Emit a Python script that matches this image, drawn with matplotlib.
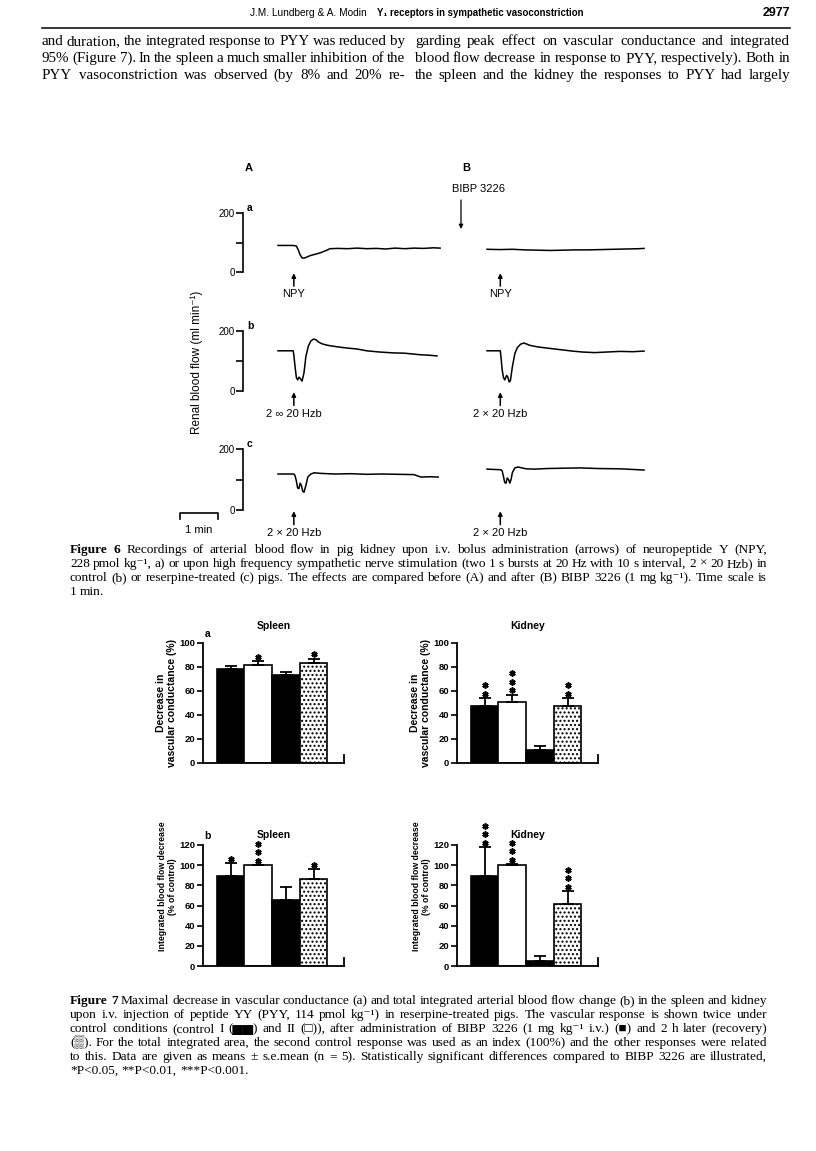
import numpy as np
import matplotlib
matplotlib.use('Agg')
import matplotlib.pyplot as plt
import matplotlib.transforms as mtransforms
from matplotlib import font_manager

# ---------------- data ----------------
# Figure 6: renal blood flow traces (time in s from trace start, flow in ml/min)
a_before_t = [0, 24, 29, 32, 35, 38, 41, 45, 50, 55, 62, 68, 75, 82, 95, 110, 125, 140, 155, 170, 185, 200, 215, 230, 245, 256]
a_before_flow = [90, 90, 88, 75, 58, 48, 47, 50, 55, 58, 62, 66, 72, 79, 80, 79, 81, 79, 80, 78, 81, 79, 81, 80, 82, 81]
a_after_t = [0, 20, 40, 60, 80, 100, 120, 140, 160, 180, 200, 220, 240, 248]
a_after_flow = [77, 76, 77, 75, 74, 73, 74, 75, 75, 76, 77, 78, 79, 80]

b_before_t = [0, 24, 25, 27, 29, 31, 33, 35, 38, 41, 44, 48, 52, 56, 60, 64, 70, 77, 85, 98, 110, 125, 140, 160, 182, 200, 224, 240, 251]
b_before_flow = [134, 134, 120, 80, 45, 37, 46, 42, 33, 60, 115, 150, 167, 173, 171, 163, 157, 153, 150, 146, 143, 140, 134, 130, 127, 126, 121, 119, 117]
b_after_t = [0, 21, 22, 24, 26, 28, 31, 33, 35, 37, 40, 44, 48, 53, 58, 62, 68, 80, 95, 115, 135, 150, 170, 190, 210, 230, 248]
b_after_flow = [134, 134, 115, 70, 45, 37, 52, 46, 30, 35, 80, 125, 145, 156, 160, 157, 152, 147, 143, 138, 133, 130, 128, 130, 132, 131, 133]

c_before_t = [0, 25, 27, 29, 31, 33, 35, 37, 39, 41, 44, 47, 52, 57, 68, 90, 115, 140, 163, 190, 215, 220, 226, 240, 253]
c_before_flow = [118, 118, 112, 95, 72, 70, 88, 80, 62, 58, 80, 108, 118, 122, 120, 118, 119, 117, 118, 117, 116, 112, 108, 109, 108]
c_after_t = [0, 22, 24, 26, 28, 30, 32, 34, 36, 38, 40, 44, 49, 55, 62, 75, 95, 120, 147, 175, 210, 230, 248]
c_after_flow = [134, 132, 128, 110, 90, 88, 105, 100, 88, 100, 122, 138, 141, 138, 135, 134, 136, 137, 138, 136, 135, 133, 131]

arrow_before_s = 25
arrow_after_s = 21
scale_bar_s = 60
trace_yticks = [0, 100, 200]
trace_yticklabels = ['0', '', '200']

# Figure 7: control I, control II, BIBP 3226, recovery
spleen_cond = [78, 82, 73, 83]
spleen_cond_sem = [3, 3, 3, 4]
spleen_cond_stars = [0, 1, 0, 1]
kidney_cond = [47.5, 51, 11, 47.5]
kidney_cond_sem = [6.5, 6, 3, 6.5]
kidney_cond_stars = [2, 3, 0, 2]
spleen_int = [89, 100, 65, 86]
spleen_int_sem = [13, 0, 13, 10]
spleen_int_stars = [1, 3, 0, 1]
kidney_int = [89, 100, 5, 61]
kidney_int_sem = [29, 1, 5, 13]
kidney_int_stars = [3, 3, 0, 3]

# page text
header_left = 'J.M. Lundberg & A. Modin'
header_mid = 'Y\u2081 receptors in sympathetic vasoconstriction'
header_page = '2977'
body_left = ["and duration, the integrated response to PYY was reduced by",
             "95% (Figure 7). In the spleen a much smaller inhibition of the",
             "PYY vasoconstriction was observed (by 8% and 20% re-"]
body_right = ["garding peak effect on vascular conductance and integrated",
              "blood flow decrease in response to PYY, respectively). Both in",
              "the spleen and the kidney the responses to PYY had largely"]
cap6 = ["Figure 6  Recordings of arterial blood flow in pig kidney upon i.v. bolus administration (arrows) of neuropeptide Y (NPY,",
        "228 pmol kg\u207b\u00b9, a) or upon high frequency sympathetic nerve stimulation (two 1 s bursts at 20 Hz with 10 s interval, 2 \u00d7 20 Hzb) in",
        "control (b) or reserpine-treated (c) pigs. The effects are compared before (A) and after (B) BIBP 3226 (1 mg kg\u207b\u00b9). Time scale is",
        "1 min."]
cap7 = ["Figure 7 Maximal decrease in vascular conductance (a) and total integrated arterial blood flow change (b) in the spleen and kidney",
        "upon i.v. injection of peptide YY (PYY, 114 pmol kg\u207b\u00b9) in reserpine-treated pigs. The vascular response is shown twice under",
        "control conditions (control I (\u2586\u2586) and II (\u25a1)), after administration of BIBP 3226 (1 mg kg\u207b\u00b9 i.v.) (\u25a0) and 2 h later (recovery)",
        "(\u2592). For the total integrated area, the second control response was used as an index (100%) and the other responses were related",
        "to this. Data are given as means \u00b1 s.e.mean (n = 5). Statistically significant differences compared to BIBP 3226 are illustrated,",
        "*P<0.05, **P<0.01, ***P<0.001."]

# ---------------- layout ----------------
W, H = 816, 1151
SERIF = ['Liberation Serif', 'DejaVu Serif']
SANS = ['Liberation Sans', 'DejaVu Sans']
installed = {f.name for f in font_manager.fontManager.ttflist}
if 'Liberation Sans Narrow' in installed:
    NARROW, head_size, head_bold_size = ['Liberation Sans Narrow', 'DejaVu Sans'], 8.8, 8.4
else:
    NARROW, head_size, head_bold_size = SANS, 7.3, 6.9

plt.rcParams['hatch.linewidth'] = 1.0

fig = plt.figure(figsize=(W / 100, H / 100), dpi=100)
fig.patch.set_facecolor('white')


def ax_px(x0, y0, x1, y1):
    return fig.add_axes([x0 / W, 1 - y1 / H, (x1 - x0) / W, (y1 - y0) / H])


page = ax_px(0, 0, W, H)
page.set_xlim(0, W)
page.set_ylim(H, 0)
page.axis('off')
renderer = fig.canvas.get_renderer()


def put_line(line, x0, x1, y, size, n_bold=0, justify=True):
    words = line.split()
    texts = [page.text(0, y, w, fontsize=size, family=SERIF,
                       fontweight='bold' if i < n_bold else 'normal',
                       ha='left', va='baseline') for i, w in enumerate(words)]
    widths = [t.get_window_extent(renderer).width for t in texts]
    space = size * 0.25 * 100 / 72
    if justify and len(words) > 1:
        gap = max((x1 - x0 - sum(widths)) / (len(words) - 1), space * 0.6)
    else:
        gap = space
    x = x0
    for t, w in zip(texts, widths):
        t.set_x(x)
        x += w + gap


# header
page.text(367, 16, header_left, ha='right', va='baseline', fontsize=head_size, family=NARROW)
page.text(377, 16, header_mid, ha='left', va='baseline', fontsize=head_bold_size,
          family=NARROW, fontweight='bold')
page.text(790, 16, header_page, ha='right', va='baseline', fontsize=9,
          family=NARROW, fontweight='bold')
page.plot([42, 790], [28, 28], color='k', lw=1.1)

for i, line in enumerate(body_left):
    put_line(line, 42, 405, 45 + 17 * i, 10.8)
for i, line in enumerate(body_right):
    put_line(line, 415, 790, 45 + 17 * i, 10.8)

# ---------------- Figure 6 ----------------
SEC_PER_PX = 60 / 38


def trace_ax(x0, x1, start_px, ytop, ybot, with_scale):
    ax = ax_px(x0, ytop, x1, ybot)
    ax.set_xlim((x0 - start_px) * SEC_PER_PX, (x1 - start_px) * SEC_PER_PX)
    ax.set_ylim(0, 200)
    ax.patch.set_visible(False)
    for s in ax.spines.values():
        s.set_visible(False)
    ax.set_xticks([])
    if with_scale:
        ax.spines['left'].set_visible(True)
        ax.spines['left'].set_linewidth(1.2)
        ax.set_yticks(trace_yticks)
        ax.set_yticklabels(trace_yticklabels, family=SANS, fontsize=7)
        ax.tick_params(axis='y', direction='out', length=5, width=1.2, pad=1)
    else:
        ax.set_yticks([])
    return ax


def arrow_label(ax, t, label):
    tr = ax.get_xaxis_transform()
    ax.annotate('', xy=(t, -0.02), xytext=(t, -0.24), xycoords=tr, textcoords=tr,
                arrowprops=dict(arrowstyle='-|>', color='k', lw=1.1,
                                mutation_scale=6, shrinkA=0, shrinkB=0))
    ax.text(t, -0.38, label, transform=tr, ha='center', va='center',
            fontsize=8, family=SANS)


rows = [
    ('a', 213, 272, a_before_t, a_before_flow, a_after_t, a_after_flow, 'NPY', 'NPY'),
    ('b', 331, 391, b_before_t, b_before_flow, b_after_t, b_after_flow, '2 \u221e 20 Hzb', '2 \u00d7 20 Hzb'),
    ('c', 449, 510, c_before_t, c_before_flow, c_after_t, c_after_flow, '2 \u00d7 20 Hzb', '2 \u00d7 20 Hzb'),
]
for letter, ytop, ybot, tb, fb, ta, fa, lb, la in rows:
    axA = trace_ax(243, 445, 278, ytop, ybot, True)
    axB = trace_ax(485, 650, 487, ytop, ybot, False)
    axA.plot(tb, fb, color='k', lw=1.1, clip_on=False)
    axB.plot(ta, fa, color='k', lw=1.1, clip_on=False)
    axA.text(0.02, 1.0, letter, transform=axA.transAxes, ha='left', va='bottom',
             fontsize=7.5, fontweight='bold', family=SANS)
    arrow_label(axA, arrow_before_s, lb)
    arrow_label(axB, arrow_after_s, la)
    if letter == 'c':
        tr = axA.get_xaxis_transform()
        x0 = (180 - 278) * SEC_PER_PX
        axA.plot([x0, x0, x0 + scale_bar_s, x0 + scale_bar_s], [-0.14, -0.05, -0.05, -0.14],
                 transform=tr, color='k', lw=1.2, clip_on=False)
        axA.text(x0 + scale_bar_s / 2, -0.33, '1 min', transform=tr, ha='center',
                 va='center', fontsize=8, family=SANS)

page.text(245, 168, 'A', fontsize=8, fontweight='bold', family=SANS, ha='left', va='center')
page.text(462, 168, 'B', fontsize=8, fontweight='bold', family=SANS, ha='left', va='center')
page.text(479, 189, 'BIBP 3226', fontsize=8, family=SANS, ha='center', va='center')
page.annotate('', xy=(461, 229), xytext=(461, 200),
              arrowprops=dict(arrowstyle='-|>', color='k', lw=0.9, mutation_scale=6,
                              shrinkA=0, shrinkB=0))
page.text(197, 362, 'Renal blood flow (ml min\u207b\u00b9)', rotation=90, ha='center',
          va='center', fontsize=8.5, family=SANS)

for i, line in enumerate(cap6):
    put_line(line, 70, 767, 553 + 14 * i, 9.6, n_bold=2 if i == 0 else 0,
             justify=i < len(cap6) - 1)

# ---------------- Figure 7 ----------------


def bar_panel(box, vals, sem, stars, ymax, title, title_pad, letter, ylabel, ylab_size, ylab_y):
    ax = ax_px(*box)
    x = np.arange(len(vals))
    bars = ax.bar(x, vals, width=1.0, color=['k', 'w', 'k', 'w'], edgecolor='k', linewidth=1.2)
    bars[3].set_hatch('....')
    ax.errorbar(x, vals, yerr=[np.zeros(len(vals)), sem], fmt='none', ecolor='k',
                elinewidth=1.3, capsize=4, capthick=1.3)
    for i, n in enumerate(stars):
        for k in range(n):
            tr = mtransforms.offset_copy(ax.transData, fig=fig, x=0, y=3.2 + 6.1 * k, units='points')
            ax.plot(x[i], vals[i] + sem[i], marker=(6, 2, 0), ms=4.5, mew=1.2,
                    color='k', transform=tr, clip_on=False)
    ax.set_xlim(-1.0, 4.1)
    ax.set_ylim(0, ymax)
    ax.set_xticks([])
    ax.set_yticks(np.arange(0, ymax + 1, 20))
    ax.tick_params(axis='y', direction='out', length=4, width=1.2, labelsize=6.8, pad=1.5)
    for lbl in ax.get_yticklabels():
        lbl.set_fontweight('bold')
        lbl.set_family(SANS)
    ax.spines['top'].set_visible(False)
    ax.spines['right'].set_bounds(0, ymax * 0.065)
    for s in ax.spines.values():
        s.set_linewidth(1.3)
    ax.set_title(title, fontsize=7.5, fontweight='bold', family=SANS, pad=title_pad)
    if letter:
        ax.text(0.01, 1.03, letter, transform=ax.transAxes, ha='left', va='bottom',
                fontsize=7.5, fontweight='bold', family=SANS)
    ax.set_ylabel(ylabel, fontsize=ylab_size, fontweight='bold', family=SANS,
                  labelpad=2, linespacing=1.05, y=ylab_y)
    return ax


lab_a = 'Decrease in\nvascular conductance (%)'
lab_b = 'Integrated blood flow decrease\n(% of control)'
bar_panel((203, 643, 344, 763), spleen_cond, spleen_cond_sem, spleen_cond_stars, 100,
          'Spleen', 10, 'a', lab_a, 7.5, 0.5)
bar_panel((457, 643, 598, 763), kidney_cond, kidney_cond_sem, kidney_cond_stars, 100,
          'Kidney', 10, None, lab_a, 7.5, 0.5)
bar_panel((203, 845, 344, 966), spleen_int, spleen_int_sem, spleen_int_stars, 120,
          'Spleen', 5, 'b', lab_b, 6.3, 0.66)
bar_panel((457, 845, 598, 966), kidney_int, kidney_int_sem, kidney_int_stars, 120,
          'Kidney', 5, None, lab_b, 6.3, 0.66)

for i, line in enumerate(cap7):
    put_line(line, 70, 767, 1004 + 14 * i, 9.6, n_bold=2 if i == 0 else 0,
             justify=i < len(cap7) - 1)

fig.savefig('out.png', dpi=100, facecolor='white')
